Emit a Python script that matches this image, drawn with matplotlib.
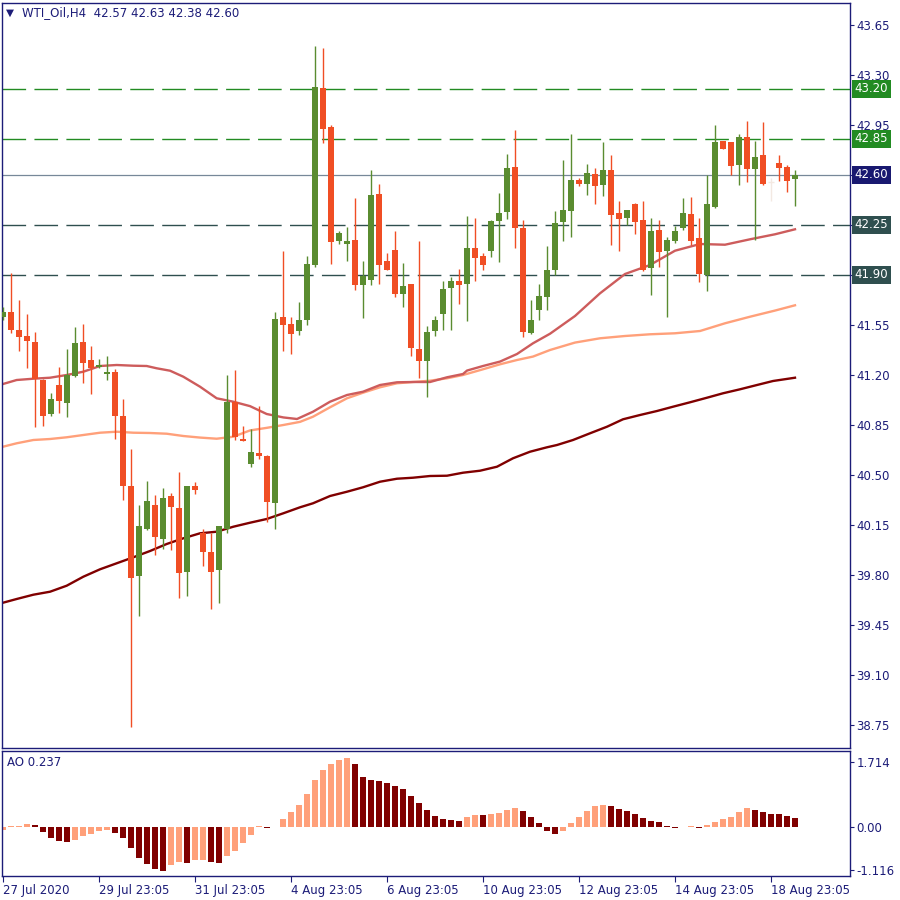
import matplotlib
matplotlib.use("Agg")
import matplotlib.pyplot as plt
import matplotlib.transforms as mtransforms
import numpy as np

# ---------------- data ----------------
symbol_title = "WTI_Oil,H4  42.57 42.63 42.38 42.60"
opens = [41.606, 41.641, 41.513, 41.471, 41.429, 41.163, 40.925, 41.128, 41.004, 41.193,
         41.429, 41.303, 41.252, 41.207, 41.219, 40.913, 40.421, 39.793, 40.120, 40.288,
         40.052, 40.351, 40.267, 39.821, 40.421, 40.090, 39.959, 39.835, 40.122, 41.011,
         40.750, 40.577, 40.652, 40.631, 40.304, 41.605, 41.555, 41.509, 41.583, 41.968,
         43.207, 42.934, 42.138, 42.117, 42.143, 41.828, 41.863, 42.467, 41.999, 42.073,
         41.768, 41.835, 41.380, 41.299, 41.509, 41.628, 41.810, 41.856, 41.838, 42.087,
         42.031, 42.069, 42.278, 42.341, 42.656, 42.227, 41.495, 41.653, 41.747, 41.933,
         42.271, 42.348, 42.563, 42.535, 42.605, 42.528, 42.633, 42.332, 42.297, 42.395,
         42.283, 41.949, 42.213, 42.068, 42.138, 42.229, 42.325, 42.157, 41.900, 42.376,
         42.836, 42.829, 42.670, 42.864, 42.642, 42.738, 42.551, 42.682, 42.654, 42.570]
highs = [41.676, 41.914, 41.723, 41.625, 41.499, 41.168, 41.070, 41.256, 41.380, 41.534,
         41.555, 41.401, 41.310, 41.331, 41.240, 41.030, 40.680, 40.288, 40.456, 40.358,
         40.407, 40.372, 40.519, 40.421, 40.449, 40.120, 40.092, 40.141, 41.198, 41.233,
         40.841, 40.820, 40.984, 40.638, 41.640, 42.067, 41.607, 41.712, 42.031, 43.503,
         43.489, 42.948, 42.206, 42.236, 42.439, 41.999, 42.635, 42.537, 42.055, 42.206,
         41.985, 41.835, 42.136, 41.541, 41.611, 41.856, 41.887, 41.942, 42.313, 42.297,
         42.055, 42.286, 42.474, 42.745, 42.915, 42.283, 41.723, 41.835, 42.101, 42.346,
         42.703, 42.885, 42.577, 42.675, 42.647, 42.829, 42.738, 42.416, 42.353, 42.402,
         42.416, 42.297, 42.283, 42.164, 42.241, 42.437, 42.444, 42.297, 42.598, 42.948,
         42.836, 42.829, 42.887, 42.976, 42.838, 42.969, 42.577, 42.738, 42.668, 42.630]
lows = [41.583, 41.490, 41.368, 41.249, 40.836, 40.843, 40.913, 40.934, 40.906, 41.186,
        41.144, 41.065, 41.245, 41.163, 40.750, 40.323, 38.736, 39.513, 40.113, 39.938,
        39.982, 39.975, 39.639, 39.653, 40.367, 39.863, 39.562, 39.604, 40.094, 40.743,
        40.738, 40.556, 40.608, 40.171, 40.120, 41.368, 41.345, 41.478, 41.548, 41.957,
        42.824, 41.978, 42.117, 41.999, 41.796, 41.600, 41.828, 41.835, 41.936, 41.747,
        41.677, 41.334, 41.180, 41.047, 41.471, 41.516, 41.516, 41.695, 41.579, 41.859,
        41.936, 42.027, 41.992, 42.293, 42.090, 41.467, 41.485, 41.583, 41.653, 41.898,
        42.138, 42.166, 42.521, 42.458, 42.395, 42.451, 42.108, 42.066, 42.248, 42.185,
        41.926, 41.758, 41.956, 41.606, 42.120, 42.213, 42.108, 41.851, 41.788, 42.369,
        42.782, 42.598, 42.530, 42.551, 42.143, 42.530, 42.418, 42.558, 42.479, 42.380]
closes = [41.641, 41.513, 41.466, 41.438, 41.168, 40.913, 41.030, 41.018, 41.198, 41.422,
          41.284, 41.249, 41.268, 41.219, 40.913, 40.423, 39.779, 40.141, 40.316, 40.066,
          40.337, 40.276, 39.814, 40.421, 40.395, 39.961, 39.821, 40.141, 41.011, 40.766,
          40.738, 40.661, 40.633, 40.311, 41.590, 41.551, 41.488, 41.583, 41.975, 43.214,
          42.920, 42.132, 42.195, 42.136, 41.828, 41.891, 42.460, 41.971, 41.936, 41.768,
          41.824, 41.390, 41.299, 41.499, 41.583, 41.800, 41.856, 41.828, 42.087, 42.019,
          41.971, 42.276, 42.332, 42.647, 42.230, 41.497, 41.583, 41.751, 41.933, 42.262,
          42.353, 42.563, 42.535, 42.612, 42.521, 42.633, 42.318, 42.290, 42.353, 42.269,
          41.933, 42.206, 42.061, 42.143, 42.206, 42.332, 42.138, 41.905, 42.395, 42.829,
          42.782, 42.663, 42.864, 42.642, 42.724, 42.537, 42.551, 42.649, 42.558, 42.600]

# moving averages, read at these bar positions
ma_fast_bars = [0, 1.71, 3.79, 5.88, 7.96, 10.04, 12.13, 14.21, 16.29, 17.96, 19.21, 20.88,
                22.54, 24.63, 26.71, 28.79, 30.88, 32.96, 35.04, 36.75, 38.75, 40.88, 43.0,
                45.0, 47.13, 49.25, 51.25, 53.38, 55.5, 57.5, 58.0, 60.0, 62.13, 64.25,
                66.25, 68.38, 71.5, 74.63, 77.75, 80.88, 84.0, 87.13, 90.25, 93.38, 96.5, 99]
ma_fast = [41.135, 41.163, 41.172, 41.179, 41.198, 41.221, 41.261, 41.268, 41.263, 41.261,
           41.245, 41.228, 41.186, 41.116, 41.035, 41.011, 40.980, 40.925, 40.901, 40.890,
           40.941, 41.011, 41.058, 41.081, 41.128, 41.147, 41.149, 41.149, 41.182, 41.205,
           41.229, 41.261, 41.292, 41.345, 41.420, 41.487, 41.611, 41.770, 41.905, 41.968,
           42.068, 42.115, 42.110, 42.148, 42.183, 42.218]
ma_mid_bars = [0, 1.71, 3.79, 5.88, 7.96, 10.04, 12.13, 14.21, 16.29, 18.38, 20.46, 22.54,
               24.63, 26.71, 28.79, 30.88, 32.96, 35.04, 37.13, 38.75, 40.88, 43.0, 45.0,
               47.13, 49.25, 51.25, 53.38, 55.5, 57.5, 60.0, 62.13, 64.25, 66.25, 68.38,
               71.5, 74.63, 77.75, 80.88, 84.0, 87.13, 90.25, 93.38, 96.5, 99]
ma_mid = [40.696, 40.720, 40.743, 40.750, 40.762, 40.778, 40.794, 40.801, 40.794, 40.792,
          40.787, 40.771, 40.760, 40.752, 40.766, 40.810, 40.828, 40.848, 40.870, 40.906,
          40.972, 41.035, 41.074, 41.112, 41.140, 41.149, 41.158, 41.175, 41.198, 41.238,
          41.273, 41.303, 41.327, 41.373, 41.425, 41.455, 41.471, 41.483, 41.490, 41.506,
          41.560, 41.606, 41.649, 41.686]
ma_slow_bars = [0, 1.71, 3.79, 5.88, 7.96, 10.04, 12.13, 14.21, 16.29, 18.38, 20.46, 22.54,
                24.63, 26.71, 28.79, 30.88, 32.96, 35.04, 37.13, 38.75, 40.88, 43.0, 45.0,
                47.13, 49.25, 51.25, 53.38, 55.5, 57.5, 59.63, 61.75, 63.75, 65.88, 68.0,
                69.25, 71.25, 73.38, 75.5, 77.5, 79.63, 81.75, 83.75, 85.88, 88.0, 90.0,
                92.13, 94.25, 96.25, 99]
ma_slow = [39.604, 39.630, 39.660, 39.681, 39.723, 39.786, 39.838, 39.880, 39.922, 39.966,
           40.015, 40.055, 40.090, 40.101, 40.136, 40.164, 40.190, 40.230, 40.272, 40.300,
           40.351, 40.381, 40.412, 40.451, 40.472, 40.479, 40.491, 40.493, 40.514, 40.528,
           40.556, 40.615, 40.661, 40.692, 40.708, 40.743, 40.790, 40.836, 40.888, 40.918,
           40.946, 40.976, 41.007, 41.039, 41.070, 41.098, 41.128, 41.156, 41.179]

# Awesome Oscillator
ao = [-0.07, 0.03, 0.035, 0.08, 0.05, -0.12, -0.28, -0.36, -0.38, -0.33,
      -0.23, -0.17, -0.10, -0.07, -0.15, -0.28, -0.54, -0.80, -0.96, -1.10,
      -1.15, -0.99, -0.92, -0.94, -0.86, -0.85, -0.92, -0.925, -0.75, -0.62,
      -0.42, -0.21, 0.03, -0.02, 0.01, 0.21, 0.39, 0.58, 0.86, 1.24,
      1.50, 1.65, 1.75, 1.81, 1.65, 1.31, 1.24, 1.20, 1.15, 1.07,
      1.00, 0.81, 0.63, 0.45, 0.30, 0.21, 0.18, 0.16, 0.26, 0.315,
      0.31, 0.34, 0.37, 0.45, 0.50, 0.42, 0.26, 0.10, -0.10, -0.18,
      -0.10, 0.10, 0.26, 0.42, 0.55, 0.58, 0.55, 0.47, 0.42, 0.34,
      0.24, 0.16, 0.13, 0.03, -0.015, -0.005, 0.02, -0.01, 0.05, 0.13,
      0.21, 0.26, 0.39, 0.50, 0.45, 0.39, 0.345, 0.34, 0.29, 0.237]
ao_label = "AO 0.237"

green_levels = [43.20, 42.85]
grey_levels = [42.25, 41.90]
bid_level = 42.60

price_ticks = [43.65, 43.30, 42.95, 42.60, 42.25, 41.90, 41.55, 41.20, 40.85, 40.50,
               40.15, 39.80, 39.45, 39.10, 38.75]
ao_ticks = [1.714, 0.0, -1.116]
ao_tick_labels = ["1.714", "0.00", "-1.116"]
date_tick_bars = [0, 12, 24, 36, 48, 60, 72, 84, 96]
date_tick_labels = ["27 Jul 2020", "29 Jul 23:05", "31 Jul 23:05", "4 Aug 23:05",
                    "6 Aug 23:05", "10 Aug 23:05", "12 Aug 23:05", "14 Aug 23:05",
                    "18 Aug 23:05"]

# ---------------- styles ----------------
NAVY = "#1c1c78"
UP = "#5a8c30"
DOWN = "#f04e24"
DOJI = "#f3e9e2"
MA_FAST_C = "#cd5c5c"
MA_MID_C = "#ffa07a"
MA_SLOW_C = "#800000"
AO_UP = "#ffa07a"
AO_DN = "#800000"
LVL_GREEN = "#228b22"
LVL_GREY = "#2f4f4f"
BID_C = "#778899"
BID_BOX = "#191970"

plt.rcParams["font.family"] = ["DejaVu Sans"]

fig = plt.figure(figsize=(9, 9), dpi=100)
fig.patch.set_facecolor("white")
ax = fig.add_axes([2 / 900, 1 - 748 / 900, 848 / 900, 745 / 900])
ax2 = fig.add_axes([2 / 900, 1 - 876 / 900, 848 / 900, 125 / 900])

n = len(opens)
idx = np.arange(n)
o = np.array(opens); h = np.array(highs); l = np.array(lows); c = np.array(closes)

xlim = (-0.125, 105.875)
for a in (ax, ax2):
    a.set_xlim(*xlim)
    for s in a.spines.values():
        s.set_color(NAVY)
        s.set_linewidth(1.0)

ax.set_ylim(38.587, 43.802)

# level lines
for lv in green_levels:
    ax.axhline(lv, color=LVL_GREEN, lw=1.0, dashes=(17, 6), zorder=1)
for lv in grey_levels:
    ax.axhline(lv, color=LVL_GREY, lw=1.0, dashes=(17, 6), zorder=1)
ax.axhline(bid_level, color=BID_C, lw=0.9, zorder=1)

# moving averages
ax.plot(ma_slow_bars, ma_slow, color=MA_SLOW_C, lw=1.7, zorder=2)
ax.plot(ma_mid_bars, ma_mid, color=MA_MID_C, lw=1.7, zorder=2)
ax.plot(ma_fast_bars, ma_fast, color=MA_FAST_C, lw=1.7, zorder=2)

# candles
colors = np.where(c > o, UP, np.where(c < o, DOWN, DOJI))
ax.vlines(idx, l, h, colors=colors, lw=1.0, zorder=3)
body_w = 0.66
bot = np.minimum(o, c)
hgt = np.abs(c - o)
mask = hgt > 0
ax.bar(idx[mask], hgt[mask], bottom=bot[mask], width=body_w, color=colors[mask],
       edgecolor="none", zorder=4)
for i in idx[~mask]:
    ax.hlines(o[i], i - body_w / 2, i + body_w / 2, colors=colors[i], lw=1.0, zorder=4)

# price axis (labels under the coloured level boxes are left to the boxes)
box_items = [(lv, LVL_GREEN) for lv in green_levels] + [(bid_level, BID_BOX)] + \
            [(lv, LVL_GREY) for lv in grey_levels]
box_vals = [round(b[0], 2) for b in box_items]
ax.yaxis.tick_right()
ax.set_yticks(price_ticks)
ax.set_yticklabels(["" if round(t, 2) in box_vals else f"{t:.2f}" for t in price_ticks])
ax.tick_params(axis="y", length=3, width=0.8, colors=NAVY, labelsize=8.5, pad=1.8)
ax.set_xticks([])

trans = mtransforms.blended_transform_factory(ax.transAxes, ax.transData)
for lv, col in box_items:
    ax.text(1.0056, lv, f"{lv:.2f}", transform=trans, ha="left", va="center",
            color="white", fontsize=8.5, zorder=10, clip_on=False,
            bbox=dict(boxstyle="square,pad=0.22", fc=col, ec="none"))

# title
ax.text(0.0052, 0.9866, "\u25bc", transform=ax.transAxes, ha="left", va="center",
        color=NAVY, fontsize=7.5)
ax.text(0.0236, 0.9866, symbol_title, transform=ax.transAxes, ha="left", va="center",
        color=NAVY, fontsize=8.5)

# AO panel
ao_arr = np.array(ao)
ao_cols = [AO_UP] + [AO_UP if ao_arr[i] > ao_arr[i - 1] else AO_DN for i in range(1, n)]
ax2.bar(idx, ao_arr, width=0.68, color=ao_cols, edgecolor="none")
ax2.set_ylim(-1.275, 1.99)
ax2.yaxis.tick_right()
ax2.set_yticks(ao_ticks)
ax2.set_yticklabels(ao_tick_labels)
ax2.tick_params(axis="y", length=3, width=0.8, colors=NAVY, labelsize=8.5, pad=1.8)
ax2.set_xticks(date_tick_bars)
ax2.set_xticklabels(date_tick_labels)
ax2.tick_params(axis="x", length=4, width=0.8, colors=NAVY, labelsize=8.5, pad=2)
for lab in ax2.get_xticklabels():
    lab.set_ha("left")
ax2.text(0.006, 0.905, ao_label, transform=ax2.transAxes, ha="left", va="center",
         color=NAVY, fontsize=8.5)

fig.savefig("out.png", dpi=100, facecolor="white")
